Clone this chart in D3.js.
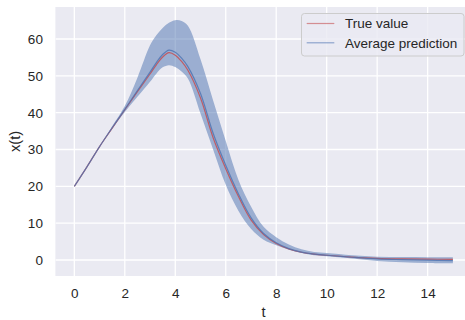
<!DOCTYPE html>
<html>
<head>
<meta charset="utf-8">
<script src="https://cdn.jsdelivr.net/npm/d3@7/dist/d3.min.js"></script>
<style>
  html, body { margin: 0; padding: 0; background: #ffffff; }
  svg { display: block; }
  text { font-family: "Liberation Sans", Arial, sans-serif; fill: #262626; }
</style>
</head>
<body>
<svg id="chart" width="465" height="320"></svg>
<script>
// Time samples
const tValues = [0, 0.5, 1, 1.5, 2, 2.5, 3, 3.25, 3.5, 3.75, 4, 4.25, 4.5, 5, 5.5, 6, 6.5, 7, 7.5, 8, 8.5, 9, 9.5, 10, 11, 12, 13, 14, 15];

// True trajectory x(t)
const trueValue = [20, 25.3, 30.8, 35.8, 40.8, 45.7, 50.5, 53.0, 55.1, 56.3, 55.6, 53.9, 51.5, 44.0, 33.2, 24.8, 17.3, 10.9, 6.9, 4.5, 3.0, 2.1, 1.6, 1.3, 0.8, 0.45, 0.3, 0.22, 0.18];

// Mean of the predicted trajectories
const avgPrediction = [20, 25.3, 30.8, 35.9, 40.9, 46.0, 51.0, 53.6, 55.8, 57.0, 56.4, 54.8, 52.5, 45.2, 34.4, 25.7, 18.0, 11.5, 7.2, 4.7, 3.1, 2.15, 1.6, 1.3, 0.75, 0.3, 0.1, -0.05, -0.15];

// Spread of the predictions
const bandUpper = [20, 25.4, 30.9, 36.3, 41.8, 49.5, 58.3, 61.0, 63.0, 64.4, 65.1, 64.9, 63.6, 54.5, 43.3, 32.3, 21.8, 14.5, 9.0, 6.2, 4.2, 2.9, 2.2, 1.9, 1.3, 0.9, 0.8, 0.75, 0.75];
const bandLower = [20, 25.2, 30.7, 35.6, 40.2, 44.3, 48.4, 50.6, 52.3, 52.9, 52.4, 51.2, 49.3, 39.8, 30.0, 20.4, 13.4, 8.5, 5.5, 4.0, 2.8, 1.9, 1.3, 1.0, 0.4, -0.3, -0.6, -0.8, -0.9];

const xTicks = [0, 2, 4, 6, 8, 10, 12, 14];
const yTicks = [0, 10, 20, 30, 40, 50, 60];
const seriesNames = ["True value", "Average prediction"];

const plot = { left: 55.4, right: 471.8, top: 7, bottom: 276 };

const svg = d3.select("#chart");

const x = d3.scaleLinear().domain([-0.75, 15.75]).range([plot.left, plot.right]);
const y = d3.scaleLinear().domain([-4.34, 68.69]).range([plot.bottom, plot.top]);

// Axes background
svg.append("rect")
  .attr("x", plot.left).attr("y", plot.top)
  .attr("width", plot.right - plot.left).attr("height", plot.bottom - plot.top)
  .attr("fill", "#eaeaf2");

svg.append("clipPath").attr("id", "plot-clip")
  .append("rect")
  .attr("x", plot.left).attr("y", plot.top)
  .attr("width", plot.right - plot.left).attr("height", plot.bottom - plot.top);

// Grid lines
const grid = svg.append("g").attr("clip-path", "url(#plot-clip)");
grid.selectAll("line.gx").data(xTicks).enter().append("line")
  .attr("x1", d => x(d)).attr("x2", d => x(d))
  .attr("y1", plot.top).attr("y2", plot.bottom)
  .attr("stroke", "#ffffff").attr("stroke-width", 1.3);
grid.selectAll("line.gy").data(yTicks).enter().append("line")
  .attr("y1", d => y(d)).attr("y2", d => y(d))
  .attr("x1", plot.left).attr("x2", plot.right)
  .attr("stroke", "#ffffff").attr("stroke-width", 1.3);

// Axes (no domain line, no tick marks)
const xAxis = svg.append("g")
  .attr("transform", `translate(0,${plot.bottom})`)
  .call(d3.axisBottom(x).tickValues(xTicks).tickSize(0).tickPadding(12).tickFormat(d3.format("d")));
const yAxis = svg.append("g")
  .attr("transform", `translate(${plot.left},0)`)
  .call(d3.axisLeft(y).tickValues(yTicks).tickSize(0).tickPadding(12.5).tickFormat(d3.format("d")));
[xAxis, yAxis].forEach(a => {
  a.select(".domain").remove();
  a.selectAll("text")
    .attr("font-family", "Liberation Sans, Arial, sans-serif")
    .attr("font-size", 13.5)
    .attr("fill", "#262626");
});

const rows = tValues.map((t, i) => ({
  t, truth: trueValue[i], mean: avgPrediction[i], hi: bandUpper[i], lo: bandLower[i]
}));

const smooth = d3.curveCatmullRom.alpha(0.5);
const plotG = svg.append("g").attr("clip-path", "url(#plot-clip)");

// Prediction band
plotG.append("path")
  .datum(rows)
  .attr("fill", "#4c72b0").attr("fill-opacity", 0.5)
  .attr("d", d3.area().curve(smooth)
    .x(d => x(d.t)).y0(d => y(d.lo)).y1(d => y(d.hi)));

const lineColors = ["#c44e52", "#4c72b0"];
const lineAlpha = [0.85, 0.8];

plotG.append("path")
  .datum(rows)
  .attr("fill", "none").attr("stroke", lineColors[0]).attr("stroke-opacity", lineAlpha[0])
  .attr("stroke-width", 1.2)
  .attr("d", d3.line().curve(smooth).x(d => x(d.t)).y(d => y(d.truth)));

plotG.append("path")
  .datum(rows)
  .attr("fill", "none").attr("stroke", lineColors[1]).attr("stroke-opacity", lineAlpha[1])
  .attr("stroke-width", 1.2)
  .attr("d", d3.line().curve(smooth).x(d => x(d.t)).y(d => y(d.mean)));

// Axis labels
svg.append("text")
  .attr("x", (plot.left + plot.right) / 2).attr("y", 317)
  .attr("text-anchor", "middle").attr("font-size", 14.7)
  .text("t");
svg.append("text")
  .attr("transform", `translate(19.5,${(plot.top + plot.bottom) / 2}) rotate(-90)`)
  .attr("text-anchor", "middle").attr("font-size", 14.7)
  .text("x(t)");

// Legend
const legend = svg.append("g");
legend.append("rect")
  .attr("x", 301.5).attr("y", 13.5).attr("width", 162.5).attr("height", 42.5)
  .attr("rx", 3).attr("ry", 3)
  .attr("fill", "#eaeaf2").attr("fill-opacity", 0.8)
  .attr("stroke", "#cccccc").attr("stroke-width", 1);
seriesNames.forEach((name, i) => {
  const yy = 23.5 + i * 19.3;
  legend.append("line")
    .attr("x1", 306.7).attr("x2", 334.3).attr("y1", yy).attr("y2", yy)
    .attr("stroke", lineColors[i]).attr("stroke-opacity", 0.6).attr("stroke-width", 1.2);
  legend.append("text")
    .attr("x", 345).attr("y", yy).attr("dy", "0.35em")
    .attr("font-size", 13.5)
    .text(name);
});
</script>
</body>
</html>
